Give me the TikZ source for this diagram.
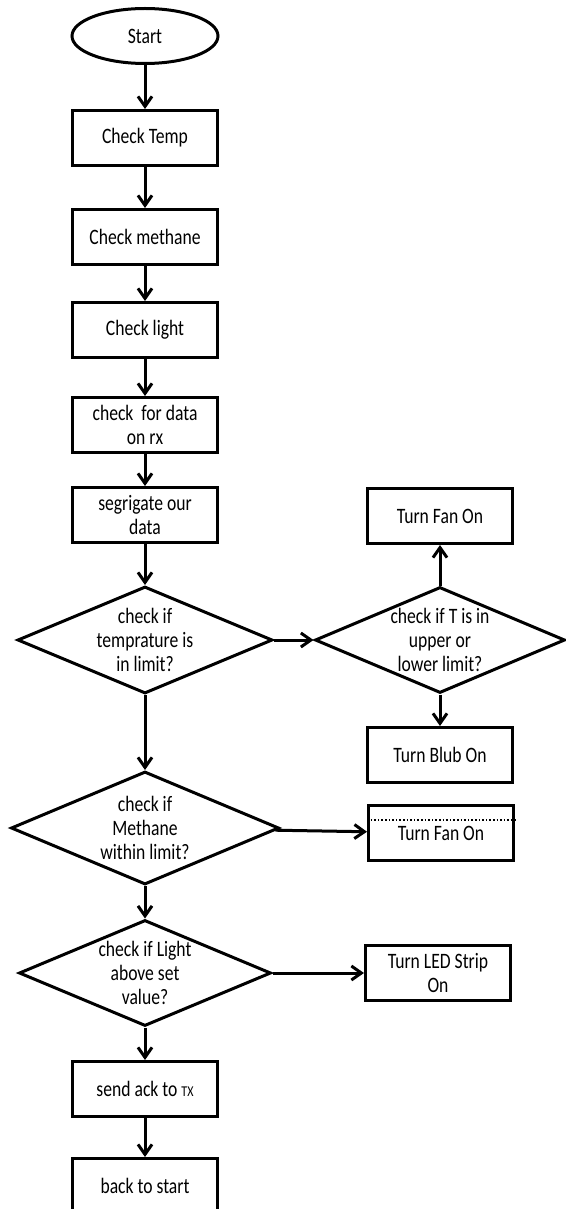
\documentclass[tikz,border=0pt]{standalone}
\usepackage{fontspec}
\setmainfont{Carlito}[FakeStretch=0.8]
\usepackage{tikz}
\usetikzlibrary{positioning, arrows.meta}
\usetikzlibrary{shapes,shapes.geometric}

\begin{document}
\begin{tikzpicture}[-{Straight Barb[length=10pt,width=14pt]}, line width=3pt,
	every node/.style={font=\fontsize{22}{24}\selectfont, align=center},
	box/.style={draw, rectangle, minimum width=145pt, minimum height=55pt, inner sep=0pt},
	dec/.style={draw, diamond, inner sep=0pt},
	term/.style={draw, ellipse, minimum width=146pt, minimum height=55pt, inner sep=0pt}]
	\useasboundingbox (0,0) rectangle (565pt,-1209pt);
	\node[term] (q0) at (145pt,-36pt) {Start};
	\node[box, below of = q0, node distance=102pt] (q1) {Check Temp};
	\node[box, below of = q1, node distance=99pt] (q2) {Check methane};
	\node[box, below of = q2, node distance=93pt] (q3) {Check light};
	\node[box, below of = q3, node distance=95pt] (q4) {check~ for data\\on rx};
	\node[box, below of = q4, node distance=90pt] (q5) {segrigate our\\data};
	\node[dec, below of = q5, node distance=125pt, minimum width=255pt, minimum height=107pt, aspect=2.38] (q6) {check if\\temprature is\\in limit?};
	\node[dec, right of = q6, node distance=295pt, minimum width=250pt, minimum height=106pt, aspect=2.36] (q7) {check if T is in\\upper or\\lower limit?};
	\node[box, above of = q7, node distance=124pt] (q8) {Turn Fan On};
	\node[box, below of = q7, node distance=115pt] (q9) {Turn Blub On};
	\node[dec, below of = q6, node distance=188pt, minimum width=268pt, minimum height=113pt, aspect=2.37] (q10) {check if\\Methane\\within limit?};
	\node[box, right of = q10, node distance=296pt, yshift=-5pt] (q11) {Turn Fan On};
	\node[dec, below of = q10, node distance=145pt, minimum width=252pt, minimum height=106pt, aspect=2.38] (q12) {check if Light\\above set\\value?};
	\node[box, right of = q12, node distance=293pt] (q13) {Turn LED Strip\\On};
	\node[box, below of = q12, node distance=116pt] (q14) {send ack to {\fontsize{15}{15}\selectfont TX}};
	\node[box, below of = q14, node distance=97pt] (q15) {back to start};
	
	\draw[-, dotted, line width=1.6pt] ([yshift=-16pt]q11.north west) -- ([yshift=-16pt]q11.north east);
	
	\draw (q0) edge[] (q1) ;
	\draw (q1) edge[] (q2) ;
	\draw (q2) edge[] (q3) ;
	\draw (q3) edge[] (q4) ;
	\draw (q4) edge[] (q5) ;
	\draw (q5) edge[] (q6) ;
	\draw (q6) edge[] (q7) ;
	\draw (q7) edge[] (q8) ;
	\draw (q7) edge[] (q9) ;
	\draw (q6) edge[] (q10) ;
	\draw (q10) edge[] (q11) ;
	\draw (q10) edge[] (q12) ;
	\draw (q12) edge[] (q13) ;
	\draw (q12) edge[] (q14) ;
	\draw (q14) edge[] (q15) ;
\end{tikzpicture}
\end{document}
